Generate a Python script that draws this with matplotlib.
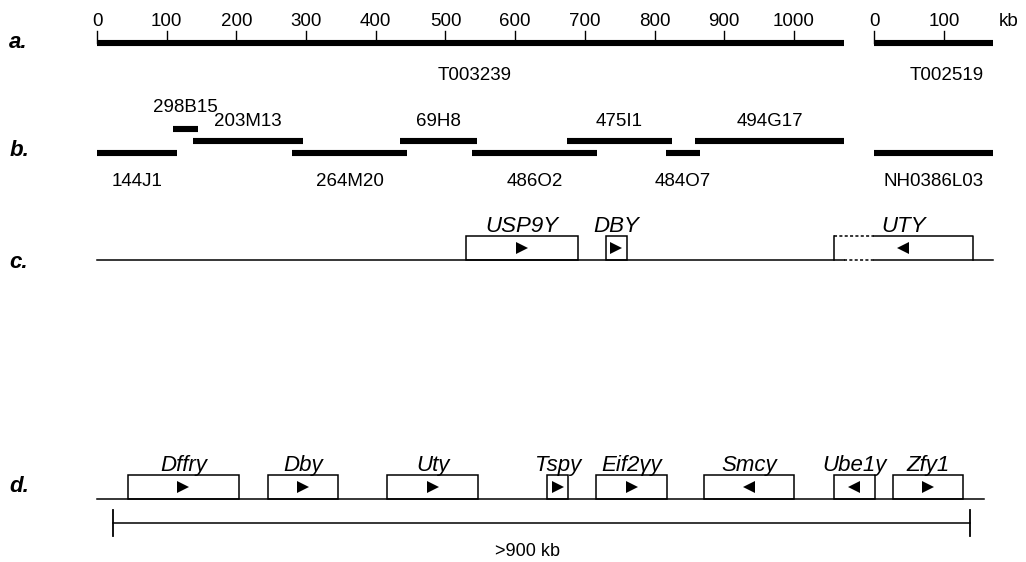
import matplotlib.pyplot as plt
from matplotlib.patches import Rectangle

plt.rcParams['font.family'] = ['Liberation Sans', 'DejaVu Sans']

# --- data (kb along the drawing; second contig placed after a gap) ---
contig_names = ['T003239', 'T002519']
contig_offset = [0, 1115]
contig_len = [1072, 171]
contig_label_at = [542, 104]   # kb within each contig
contig_ticks = [list(range(0, 1001, 100)), [0, 100]]

# BAC / PAC clones (row b); tier 0 = lower, 1 = upper, 2 = top
clone_names = ['144J1', '298B15', '203M13', '264M20', '69H8', '486O2',
               '475I1', '484O7', '494G17', 'NH0386L03']
clone_start = [0, 109, 138, 280, 435, 538, 674, 816, 858, 1115]
clone_end = [115, 145, 296, 445, 545, 717, 825, 865, 1072, 1286]
clone_tier = [0, 2, 1, 0, 1, 0, 1, 0, 1, 0]

# human genes (row c)
human_genes = ['USP9Y', 'DBY', 'UTY']
human_start = [529, 730, 1057]
human_end = [690, 760, 1257]
human_strand = [1, 1, -1]
uty_known_from = 1115   # part left of this is uncertain (dashed)

# mouse genes (row d)
mouse_genes = ['Dffry', 'Dby', 'Uty', 'Tspy', 'Eif2γy', 'Smcy', 'Ube1y', 'Zfy1']
mouse_start = [44, 245, 416, 646, 716, 871, 1057, 1142]
mouse_end = [204, 346, 547, 676, 818, 1000, 1116, 1242]
mouse_strand = [1, 1, 1, 1, 1, -1, -1, 1]
mouse_line = [0, 1273]
mouse_scale = [23, 1253]
mouse_scale_label = '>900 kb'

# --- figure: x in kb, y in pixels from the top ---
fig = plt.figure(figsize=(10.26, 5.62), dpi=100)
ax = fig.add_axes([0, 0, 1, 1])
ax.set_xlim(-139.2, 1332.9)
ax.set_ylim(562, 0)
ax.axis('off')

def panel_label(y, s):
    ax.text(-126, y, s, fontsize=16, fontweight='bold', style='italic',
            va='center', ha='left')

# row a: sequence contigs with kb rulers
ya = 43
panel_label(ya, 'a.')
for name, off, ln, lab, ticks in zip(contig_names, contig_offset, contig_len,
                                     contig_label_at, contig_ticks):
    ax.plot([off, off + ln], [ya, ya], color='black', lw=4.4, solid_capstyle='butt')
    for t in ticks:
        ax.plot([off + t, off + t], [ya, 31], color='black', lw=1)
        ax.text(off + t, 21, str(t), fontsize=13.5, ha='center', va='center')
    ax.text(off + lab, 75, name, fontsize=13.5, ha='center', va='center')
ax.text(contig_offset[1] + contig_len[1] + 8, 21, 'kb', fontsize=13.5,
        ha='left', va='center')

# row b: clone tiling path
panel_label(150, 'b.')
tier_y = [153, 141, 129]
label_y = [181, 122, 108]
for name, s, e, t in zip(clone_names, clone_start, clone_end, clone_tier):
    ax.plot([s, e], [tier_y[t], tier_y[t]], color='black', lw=4.4,
            solid_capstyle='butt')
    ax.text((s + e) / 2, label_y[t], name, fontsize=13.5, ha='center',
            va='center')

def gene_box(s, e, strand, name, base, top, dashed_to=None):
    if dashed_to is None:
        ax.add_patch(Rectangle((s, top), e - s, base - top, fill=False,
                               ec='black', lw=1.1))
    else:
        ax.plot([s, dashed_to], [top, top], color='black', lw=1.1,
                ls=(0, (2, 1.5)))
        ax.plot([s, s], [base, top], color='black', lw=1.1)
        ax.plot([dashed_to, e, e], [top, top, base], color='black', lw=1.1)
    ax.plot((s + e) / 2, (base + top) / 2, marker='>' if strand > 0 else '<',
            color='black', ms=8, mew=0)
    ax.text((s + e) / 2, top - 4, name, fontsize=16, style='italic',
            ha='center', va='baseline')

# row c: human genes
yc = 260
panel_label(263, 'c.')
ax.plot([contig_offset[0], contig_len[0]], [yc, yc], color='black', lw=1.1)
ax.plot([contig_len[0], contig_offset[1]], [yc, yc], color='black', lw=1.1,
        ls=(0, (2, 1.5)))
ax.plot([contig_offset[1], contig_offset[1] + contig_len[1]], [yc, yc],
        color='black', lw=1.1)
for name, s, e, st in zip(human_genes, human_start, human_end, human_strand):
    gene_box(s, e, st, name, yc, 236,
             dashed_to=uty_known_from if name == 'UTY' else None)

# row d: mouse genes
yd = 499
panel_label(487, 'd.')
ax.plot(mouse_line, [yd, yd], color='black', lw=1.1)
for name, s, e, st in zip(mouse_genes, mouse_start, mouse_end, mouse_strand):
    gene_box(s, e, st, name, yd, 475)

ys = 523
ax.plot(mouse_scale, [ys, ys], color='black', lw=1.1)
for x in mouse_scale:
    ax.plot([x, x], [510, 536], color='black', lw=1.3)
ax.text(sum(mouse_scale) / 2 - 21, 552, mouse_scale_label, fontsize=13,
        ha='center', va='center')

fig.savefig('out.png', dpi=100, facecolor='white')
